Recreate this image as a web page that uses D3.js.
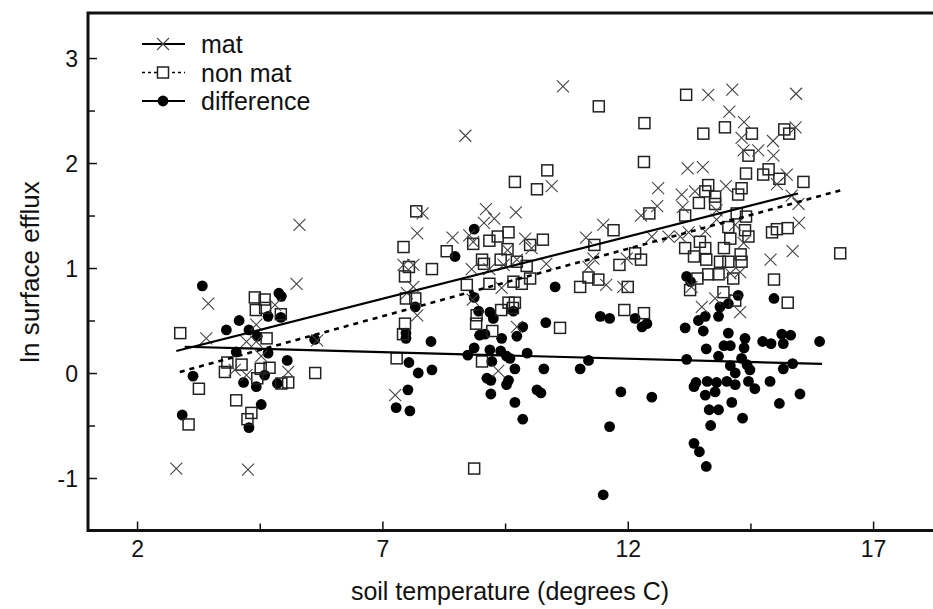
<!DOCTYPE html>
<html>
<head>
<meta charset="utf-8">
<script src="https://cdn.jsdelivr.net/npm/d3@7"></script>
<style>
  html, body { margin: 0; padding: 0; background: #fff; }
  svg { display: block; font-family: "Liberation Sans", Arial, sans-serif; }
</style>
</head>
<body>
<svg id="chart" width="933" height="609"></svg>
<script>
// soil temperature (deg C), ln surface efflux
var matPoints = [
  [5.25,0.85],[5.31,1.41],[3.45,0.66],[3.41,0.33],[4.81,0.65],[4.43,0.46],[4.23,0.30],[4.43,0.30],
  [5.67,0.31],[4.53,0.16],[3.99,0.03],[5.08,0.01],[4.23,-0.02],[2.80,-0.91],[4.26,-0.92],
  [7.82,1.52],[7.71,1.33],[8.43,1.29],[8.77,1.31],[9.11,1.56],[9.28,1.47],[9.07,1.43],[9.72,1.53],
  [8.85,1.25],[9.91,1.28],[10.04,1.19],[7.43,1.03],[7.63,1.03],[9.55,1.17],[9.74,1.08],[10.34,1.04],
  [8.82,0.99],[9.18,0.99],[9.47,1.03],[7.63,0.82],[7.50,0.76],[9.43,0.81],[8.84,0.70],[7.71,0.55],
  [9.74,0.44],[9.36,0.02],[7.26,-0.21],[11.15,1.29],[11.50,1.41],[11.30,1.09],[11.20,1.01],[11.56,0.84],
  [11.91,0.82],[10.68,2.73],[8.69,2.26],[10.45,1.78],
  [13.64,2.65],[14.13,2.70],[15.43,2.66],[14.07,2.49],[14.37,2.39],[15.42,2.34],[14.32,2.24],[14.96,2.21],
  [14.36,2.12],[14.66,2.12],[14.97,2.07],[13.22,1.95],[13.53,1.96],[15.24,1.89],[15.04,1.80],[12.62,1.76],
  [12.60,1.59],[12.27,1.50],[13.10,1.70],[13.37,1.73],[14.00,1.78],[15.34,1.69],[15.48,1.61],[13.12,1.58],
  [13.81,1.55],[15.49,1.43],[12.49,1.30],[12.83,1.30],[13.07,1.30],[13.24,1.34],[13.58,1.35],[14.36,1.24],
  [13.81,1.46],[14.19,1.41],[15.36,1.16],[14.91,1.08],[11.98,1.09],[14.29,0.96],[13.30,0.82],[13.51,0.63],
  [13.78,0.71],[14.29,0.58],[14.09,0.95]
];

var nonMatPoints = [
  [4.40,0.72],[4.60,0.70],[4.42,0.60],[4.61,0.62],[4.93,0.56],[2.88,0.38],[4.64,0.33],[3.84,0.10],
  [3.79,0.01],[4.13,0.08],[4.52,0.04],[4.70,0.05],[4.45,-0.05],[4.94,-0.10],[5.08,-0.09],[5.63,0.00],
  [3.26,-0.15],[4.02,-0.26],[3.05,-0.49],[4.33,-0.38],[4.25,-0.44],
  [9.70,1.82],[10.15,1.75],[10.36,1.93],[11.41,2.54],[7.69,1.54],[7.43,1.20],[8.31,1.16],[7.54,1.01],
  [8.01,0.99],[7.46,0.92],[8.85,1.23],[9.18,1.26],[9.35,1.30],[9.57,1.34],[9.55,1.18],[10.01,1.22],
  [10.27,1.27],[9.03,1.08],[9.07,1.04],[9.41,1.08],[9.74,1.06],[9.94,1.02],[10.01,0.90],[8.72,0.84],
  [9.18,0.85],[9.67,0.87],[9.84,0.85],[7.48,0.71],[7.67,0.71],[9.42,0.60],[9.57,0.67],[9.70,0.67],
  [9.66,0.62],[8.92,0.55],[8.91,0.47],[9.24,0.40],[10.62,0.43],[7.46,0.47],[7.42,0.37],[7.29,0.14],
  [9.03,0.11],[8.87,-0.91],[11.32,1.22],[11.71,1.36],[11.83,1.03],[11.20,0.91],[11.40,0.89],[11.03,0.82],
  [11.93,0.60],[12.00,0.82],
  [13.19,2.65],[12.34,2.38],[12.33,2.01],[13.54,2.28],[13.98,2.34],[14.53,2.28],[15.19,2.32],[15.29,2.28],
  [14.46,2.07],[14.41,1.90],[14.76,1.89],[14.87,1.94],[15.09,1.85],[15.58,1.82],[13.64,1.79],[13.58,1.73],
  [14.32,1.76],[14.25,1.70],[13.45,1.62],[12.44,1.52],[13.17,1.50],[13.78,1.68],[13.78,1.61],[14.22,1.52],
  [14.41,1.49],[14.05,1.39],[14.39,1.36],[14.46,1.30],[14.09,1.28],[14.94,1.34],[15.04,1.37],[15.26,1.38],
  [16.33,1.14],[12.15,1.14],[12.27,1.08],[13.47,1.25],[13.17,1.19],[13.58,1.19],[13.96,1.19],[13.35,1.11],
  [13.60,1.08],[13.88,1.06],[14.05,1.06],[14.30,1.13],[14.32,1.06],[13.42,0.90],[13.64,0.94],[13.85,0.94],
  [14.15,0.90],[14.98,0.89],[13.27,0.79],[13.95,0.77],[14.19,0.69],[15.26,0.67],[12.33,0.57]
];

var diffPoints = [
  [3.33,0.83],[4.89,0.76],[4.94,0.73],[4.08,0.50],[3.82,0.41],[4.28,0.41],[4.67,0.54],[4.93,0.53],
  [4.45,0.35],[5.62,0.32],[4.02,0.20],[4.67,0.19],[5.06,0.12],[3.14,-0.03],[4.60,-0.02],[4.17,-0.09],
  [4.43,-0.13],[4.86,-0.10],[4.53,-0.30],[2.92,-0.40],[4.28,-0.52],
  [8.87,1.37],[8.48,1.11],[7.67,0.63],[8.87,0.72],[8.96,0.59],[9.19,0.58],[9.26,0.52],[9.67,0.59],
  [7.48,0.38],[7.48,0.33],[8.98,0.36],[9.09,0.37],[9.43,0.33],[9.74,0.35],[9.86,0.44],[10.33,0.48],
  [10.52,0.82],[7.99,0.30],[11.44,0.54],[11.63,0.52],[8.87,0.24],[9.19,0.22],[9.41,0.21],[9.53,0.16],
  [9.60,0.14],[9.95,0.19],[8.74,0.17],[9.23,0.11],[7.54,0.10],[7.73,0.00],[8.01,0.03],[9.70,0.04],
  [10.29,0.04],[11.20,0.12],[11.03,0.04],[9.13,-0.05],[9.21,-0.07],[9.57,-0.07],[9.53,-0.11],[7.52,-0.16],
  [10.15,-0.16],[10.23,-0.19],[9.21,-0.20],[7.28,-0.33],[7.56,-0.36],[9.70,-0.28],[9.86,-0.44],[11.86,-0.18],
  [11.63,-0.51],[11.50,-1.16],
  [13.20,0.92],[13.28,0.87],[14.25,0.74],[14.98,0.71],[13.88,0.63],[14.05,0.66],[13.85,0.54],[13.58,0.54],
  [13.44,0.50],[12.15,0.52],[12.29,0.44],[12.39,0.47],[13.17,0.43],[13.54,0.40],[14.05,0.38],[14.39,0.33],
  [14.75,0.30],[14.92,0.28],[15.17,0.28],[15.14,0.37],[15.32,0.36],[15.91,0.30],[13.60,0.23],[13.96,0.26],
  [14.09,0.26],[14.37,0.24],[13.20,0.13],[13.85,0.16],[14.32,0.14],[14.09,0.07],[14.19,0.00],[14.43,0.08],
  [14.49,0.03],[15.17,0.04],[15.36,0.09],[12.49,-0.23],[13.39,-0.09],[13.35,-0.13],[13.62,-0.08],[13.81,-0.09],
  [14.02,-0.08],[14.19,-0.11],[14.46,-0.08],[14.59,-0.15],[14.90,-0.08],[13.58,-0.21],[13.78,-0.18],[15.51,-0.20],
  [13.66,-0.35],[13.85,-0.35],[14.12,-0.28],[15.09,-0.29],[14.34,-0.43],[13.69,-0.50],[13.35,-0.67],[13.46,-0.75],
  [13.60,-0.89]
];

// fitted lines: mat, non mat, difference
var seriesNames = ["mat", "non mat", "difference"];
var fitSlope = [0.1184, 0.1285, -0.0126];
var fitIntercept = [-0.1215, -0.359, 0.2875];
var fitStart = [2.80, 2.87, 2.97];
var fitEnd = [15.47, 16.33, 15.96];

var xMajor = [2, 7, 12, 17];
var xMinor = [4.5, 9.5, 14.5];
var yMajor = [-1, 0, 1, 2, 3];
var yMinor = [-0.5, 0.5, 1.5, 2.5];

var W = 933, H = 609;
var svg = d3.select("#chart");

var x = d3.scaleLinear().domain([1, 18.5]).range([88, 946.7]);
var y = d3.scaleLinear().domain([-1.5, 3.43]).range([530.5, 12.9]);

var ink = "#111";

// points
var crossPath = "M-6,-6L6,6M-6,6L6,-6";

svg.append("g").selectAll("circle")
  .data(diffPoints)
  .join("circle")
  .attr("cx", d => x(d[0]))
  .attr("cy", d => y(d[1]))
  .attr("r", 5.4)
  .attr("fill", "#000");

svg.append("g").selectAll("rect")
  .data(nonMatPoints)
  .join("rect")
  .attr("x", d => x(d[0]) - 5.5)
  .attr("y", d => y(d[1]) - 5.5)
  .attr("width", 11)
  .attr("height", 11)
  .attr("fill", "none")
  .attr("stroke", "#222")
  .attr("stroke-width", 1.5);

svg.append("g").selectAll("path")
  .data(matPoints)
  .join("path")
  .attr("transform", d => `translate(${x(d[0])},${y(d[1])})`)
  .attr("d", crossPath)
  .attr("fill", "none")
  .attr("stroke", "#444")
  .attr("stroke-width", 1.1);

// fitted lines
var line = d3.line().x(d => x(d[0])).y(d => y(d[1]));
seriesNames.forEach(function(name, i) {
  var pts = [fitStart[i], fitEnd[i]].map(t => [t, fitIntercept[i] + fitSlope[i] * t]);
  svg.append("path")
    .datum(pts)
    .attr("d", line)
    .attr("fill", "none")
    .attr("stroke", "#000")
    .attr("stroke-width", i == 1 ? 2.6 : 2.2)
    .attr("stroke-dasharray", i == 1 ? "5,5" : null);
});

// axes (ticks point inward)
var plainNum = d => String(d);

var xAxisG = svg.append("g")
  .attr("transform", `translate(0,${y.range()[0]})`)
  .call(d3.axisBottom(x).tickValues(xMajor).tickSize(-9).tickFormat(plainNum));
svg.append("g")
  .attr("transform", `translate(0,${y.range()[0]})`)
  .call(d3.axisBottom(x).tickValues(xMinor).tickSize(-7).tickFormat(""))
  .call(g => g.select(".domain").remove());

var yAxisG = svg.append("g")
  .attr("transform", `translate(${x.range()[0]},0)`)
  .call(d3.axisLeft(y).tickValues(yMajor).tickSize(-9).tickFormat(plainNum));
svg.append("g")
  .attr("transform", `translate(${x.range()[0]},0)`)
  .call(d3.axisLeft(y).tickValues(yMinor).tickSize(-7).tickFormat(""))
  .call(g => g.select(".domain").remove());

[xAxisG, yAxisG].forEach(g => {
  g.select(".domain").remove();
  g.selectAll("text").attr("font-size", 23).attr("fill", ink)
    .attr("font-family", "'Liberation Sans', Arial, sans-serif");
});
xAxisG.selectAll("text").attr("dy", "0.71em").attr("y", 10);
yAxisG.selectAll("text").attr("x", -10).attr("dy", "0.35em");
svg.selectAll(".tick line").attr("stroke", ink).attr("stroke-width", 1.5);

// frame: left, top, bottom (no right edge)
var x0 = x.range()[0], y0 = y.range()[0], y1 = y.range()[1];
svg.append("path")
  .attr("d", `M${W},${y1}H${x0}V${y0}H${W}`)
  .attr("fill", "none")
  .attr("stroke", ink)
  .attr("stroke-width", 3);

// axis titles
svg.append("text")
  .attr("x", 510).attr("y", 600)
  .attr("text-anchor", "middle")
  .attr("font-size", 25)
  .attr("fill", ink)
  .text("soil temperature (degrees C)");

svg.append("text")
  .attr("transform", "translate(39,272) rotate(-90)")
  .attr("text-anchor", "middle")
  .attr("font-size", 26)
  .attr("fill", ink)
  .text("ln surface efflux");

// legend
var legend = svg.append("g");
seriesNames.forEach(function(name, i) {
  var ly = 44 + i * 28.5;
  var g = legend.append("g").attr("transform", `translate(0,${ly})`);
  g.append("line")
    .attr("x1", 142).attr("x2", 185)
    .attr("stroke", "#000")
    .attr("stroke-width", i == 1 ? 1.5 : 2)
    .attr("stroke-dasharray", i == 1 ? "3,3" : null);
  if (i == 0) {
    g.append("path").attr("transform", "translate(163,0)").attr("d", crossPath)
      .attr("stroke", "#444").attr("stroke-width", 1.1);
  } else if (i == 1) {
    g.append("rect").attr("x", 157.5).attr("y", -5.5).attr("width", 11).attr("height", 11)
      .attr("fill", "#fff").attr("stroke", "#222").attr("stroke-width", 1.5);
  } else {
    g.append("circle").attr("cx", 163).attr("r", 5.4).attr("fill", "#000");
  }
  g.append("text")
    .attr("x", 201).attr("dy", "0.36em")
    .attr("font-size", 25)
    .attr("fill", ink)
    .text(name);
});
</script>
</body>
</html>
